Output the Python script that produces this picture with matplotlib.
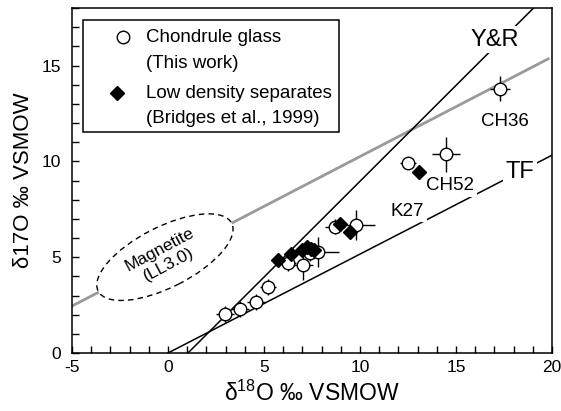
import numpy as np
import matplotlib.pyplot as plt
from matplotlib.patches import Ellipse, Rectangle
from matplotlib.ticker import MultipleLocator

plt.rcParams['font.family'] = ['Liberation Sans', 'DejaVu Sans']
plt.rcParams['axes.unicode_minus'] = False

# chondrule glass (this work): d18O, d17O and 1-sigma errors
glass_d18 = [2.97, 3.75, 4.58, 5.21, 6.25, 7.03, 7.40, 7.81, 8.70, 9.79, 12.50, 14.48, 17.29]
glass_d17 = [2.03, 2.29, 2.66, 3.44, 4.69, 4.58, 5.20, 5.26, 6.60, 6.67, 9.90, 10.36, 13.80]
glass_xerr = [0.45, 0.45, 0.45, 0.40, 0.40, 0.50, 0.40, 1.10, 0.50, 1.00, 0.40, 0.75, 0.50]
glass_yerr = [0.40, 0.40, 0.40, 0.40, 0.40, 0.75, 0.40, 0.78, 0.40, 0.78, 0.30, 0.90, 0.65]

# low density separates (Bridges et al., 1999)
lds_d18 = [5.73, 6.40, 6.98, 7.24, 7.45, 7.62, 8.96, 9.48, 13.07]
lds_d17 = [4.84, 5.16, 5.36, 5.52, 5.42, 5.35, 6.72, 6.30, 9.43]

# sample labels
labels = ['K27', 'CH52', 'CH36']
label_x = [12.45, 14.69, 17.55]
label_y = [7.40, 8.75, 12.10]

# reference lines: slope, intercept
tf_slope, tf_icpt = 0.516, 0.0
yr_slope, yr_icpt = 1.0, -1.04
oc_slope, oc_icpt = 0.52, 5.05

fig = plt.figure(figsize=(5.61, 4.11), dpi=100)
ax = fig.add_axes([72 / 561, 1 - 353 / 411, 480 / 561, 345 / 411])

# grey line and magnetite field
x = np.array([-5, 19.8])
ax.plot(x, oc_slope * x + oc_icpt, color='#9a9a9a', lw=2.0, zorder=1)
ell = Ellipse((-0.16, 5.0), 7.8, 3.15, angle=27, facecolor='white',
              edgecolor='black', ls=(0, (4, 3)), lw=1.0, zorder=2)
ax.add_patch(ell)
ax.text(-0.2, 5.0, 'Magnetite\n(LL3.0)', rotation=28, ha='center', va='center',
        multialignment='center', fontsize=12.5, rotation_mode='anchor', zorder=3)

# TF and Y&R lines
x = np.array([0, 20])
ax.plot(x, tf_slope * x + tf_icpt, color='black', lw=1.1, zorder=2)
x = np.array([-yr_icpt / yr_slope, (18 - yr_icpt) / yr_slope])
ax.plot(x, yr_slope * x + yr_icpt, color='black', lw=1.1, zorder=2)

box = dict(facecolor='white', edgecolor='none', pad=2)
ax.text(17.03, 16.35, 'Y&R', fontsize=17, ha='center', va='center', bbox=box, zorder=3)
ax.text(18.33, 9.43, 'TF', fontsize=17, ha='center', va='center', bbox=box, zorder=3)

# data
ax.errorbar(glass_d18, glass_d17, xerr=glass_xerr, yerr=glass_yerr, fmt='o',
            ms=9, mfc='white', mec='black', mew=1.0, ecolor='black',
            elinewidth=1.0, capsize=0, zorder=4)
ax.plot(lds_d18, lds_d17, 'D', ms=7, color='black', zorder=5)

for s, lx, ly in zip(labels, label_x, label_y):
    ax.text(lx, ly, s, fontsize=13.5, ha='center', va='center', bbox=box, zorder=3)

# legend drawn by hand
ax.add_patch(Rectangle(((83 - 72) / 480, (353 - 132) / 345), (339 - 83) / 480, (132 - 20) / 345,
                       transform=ax.transAxes, facecolor='white', edgecolor='black',
                       lw=1.1, zorder=6))
ax.plot([(123 - 72) / 480], [(353 - 37) / 345], 'o', ms=9, mfc='white', mec='black',
        mew=1.0, transform=ax.transAxes, zorder=7)
ax.plot([(117 - 72) / 480], [(353 - 93) / 345], 'D', ms=7, color='black',
        transform=ax.transAxes, zorder=7)
tx = (146 - 72) / 480
for txt, py in [('Chondrule glass', 37), ('(This work)', 63),
                ('Low density separates', 93), ('(Bridges et al., 1999)', 118)]:
    ax.text(tx, (353 - py) / 345, txt, fontsize=13.5, ha='left', va='center',
            transform=ax.transAxes, zorder=7)

ax.set_xlim(-5, 20)
ax.set_ylim(0, 18)
ax.xaxis.set_major_locator(MultipleLocator(5))
ax.xaxis.set_minor_locator(MultipleLocator(1))
ax.yaxis.set_major_locator(MultipleLocator(5))
ax.yaxis.set_minor_locator(MultipleLocator(1))
ax.tick_params(which='both', direction='in', top=False, right=False, length=5, width=1.0)
ax.tick_params(axis='both', labelsize=12.5)
ax.tick_params(axis='y', pad=8)
ax.tick_params(axis='x', pad=5)
for sp in ax.spines.values():
    sp.set_linewidth(1.1)

ax.set_xlabel('δ$^{\\mathregular{18}}$O ‰ VSMOW', fontsize=16.5, labelpad=4)
ax.set_ylabel('δ17O ‰ VSMOW', fontsize=16, labelpad=5)

fig.savefig('out.png', dpi=100)
